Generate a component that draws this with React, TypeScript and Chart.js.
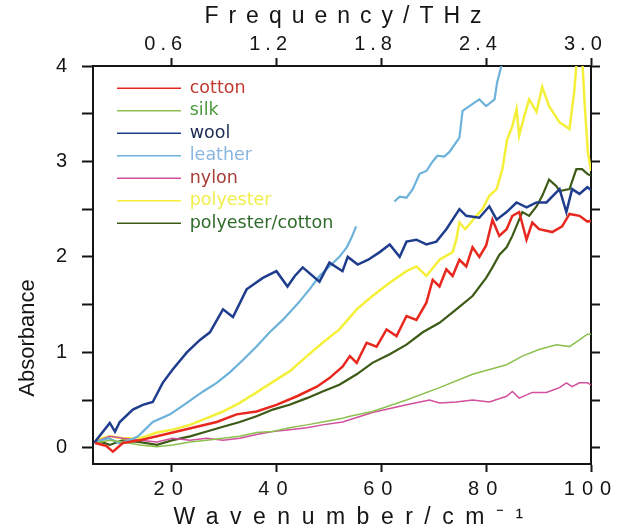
import React, { useEffect, useRef } from 'react';
import { Chart, registerables } from 'chart.js';

Chart.register(...registerables);

// ---- data (wavenumber in cm^-1, absorbance) ----
const cottonX = [5.4, 7.5, 8.8, 10.7, 14.0, 17.2, 21.0, 24.8, 28.6, 32.4, 36.2, 40.0, 43.9, 47.7, 50.1, 52.6, 54.0, 55.3, 57.2, 59.1, 61.0, 62.9, 64.8, 66.7, 68.6, 69.8, 71.1, 72.4, 73.6, 74.9, 76.2, 77.4, 78.7, 80.0, 81.2, 82.5, 83.9, 85.0, 86.3, 87.7, 88.8, 90.1, 92.6, 94.5, 95.9, 97.8, 99.3, 100];
const cottonY = [0.05, 0.02, -0.04, 0.05, 0.08, 0.12, 0.17, 0.22, 0.27, 0.35, 0.38, 0.45, 0.54, 0.64, 0.73, 0.85, 0.96, 0.89, 1.10, 1.06, 1.24, 1.17, 1.38, 1.34, 1.52, 1.76, 1.69, 1.87, 1.80, 1.97, 1.90, 2.10, 2.00, 2.12, 2.39, 2.22, 2.29, 2.43, 2.47, 2.18, 2.36, 2.29, 2.26, 2.32, 2.45, 2.43, 2.37, 2.38];

const silkX = [5.4, 8.2, 10.7, 14.0, 17.2, 20.2, 23.5, 26.7, 29.8, 33.0, 36.2, 39.3, 42.5, 45.8, 48.8, 52.6, 54.0, 58.3, 64.8, 71.1, 77.4, 83.9, 86.9, 90.1, 93.4, 95.9, 97.8, 99.3, 100];
const silkY = [0.05, 0.08, 0.06, 0.03, 0.01, 0.03, 0.06, 0.08, 0.10, 0.12, 0.16, 0.17, 0.21, 0.24, 0.27, 0.31, 0.33, 0.38, 0.50, 0.63, 0.77, 0.87, 0.96, 1.03, 1.08, 1.06, 1.13, 1.19, 1.19];

const woolX = [5.2, 8.2, 9.2, 10.1, 12.6, 14.5, 16.4, 18.3, 20.2, 22.9, 25.4, 27.3, 29.8, 31.7, 34.3, 37.4, 40.0, 42.1, 43.5, 45.0, 48.2, 50.1, 52.6, 53.6, 55.5, 57.5, 59.7, 61.6, 63.5, 64.8, 66.7, 68.6, 70.5, 72.4, 74.9, 76.2, 78.7, 80.6, 82.0, 83.9, 85.8, 87.7, 89.6, 91.5, 94.0, 95.3, 96.4, 97.8, 99.3, 100];
const woolY = [0.05, 0.26, 0.17, 0.27, 0.40, 0.45, 0.48, 0.68, 0.82, 1.00, 1.13, 1.21, 1.45, 1.37, 1.66, 1.78, 1.85, 1.69, 1.80, 1.89, 1.74, 1.94, 1.85, 2.00, 1.92, 1.97, 2.05, 2.13, 2.00, 2.16, 2.18, 2.13, 2.16, 2.29, 2.50, 2.43, 2.41, 2.53, 2.39, 2.47, 2.57, 2.52, 2.57, 2.57, 2.71, 2.47, 2.71, 2.66, 2.73, 2.70];

const leatherX = [5.4, 8.0, 10.0, 12.0, 13.6, 16.4, 19.7, 22.9, 26.0, 28.6, 31.1, 33.6, 36.2, 38.7, 41.2, 43.9, 46.3, 48.2, 50.1, 52.0, 53.4, 54.3, 55.2, 58.5, 62.5, 63.5, 64.8, 66.0, 67.3, 68.6, 69.8, 70.7, 72.0, 73.0, 74.9, 75.5, 76.8, 78.7, 80.0, 81.6, 82.1, 82.9, 83.5];
const leatherY = [0.06, 0.10, 0.05, 0.08, 0.12, 0.27, 0.35, 0.47, 0.59, 0.68, 0.79, 0.92, 1.06, 1.21, 1.34, 1.50, 1.66, 1.80, 1.90, 2.00, 2.10, 2.20, 2.32, null, 2.58, 2.63, 2.62, 2.71, 2.87, 2.90, 3.00, 3.06, 3.05, 3.10, 3.25, 3.53, 3.58, 3.65, 3.58, 3.65, 3.83, 4.00, 4.15];

const nylonX = [5.4, 8.2, 10.7, 14.0, 17.2, 20.2, 23.5, 26.7, 29.8, 33.0, 36.2, 39.3, 42.5, 45.8, 48.8, 52.6, 58.3, 64.8, 69.2, 71.1, 74.3, 77.4, 80.6, 83.9, 85.0, 86.3, 88.8, 91.5, 94.0, 95.3, 96.4, 97.8, 99.3, 100];
const nylonY = [0.06, 0.12, 0.10, 0.08, 0.06, 0.10, 0.08, 0.10, 0.08, 0.10, 0.14, 0.17, 0.19, 0.21, 0.24, 0.27, 0.37, 0.45, 0.50, 0.47, 0.48, 0.50, 0.48, 0.54, 0.59, 0.52, 0.58, 0.58, 0.63, 0.68, 0.64, 0.68, 0.68, 0.66];

const polyesterX = [5.4, 8.2, 10.7, 14.0, 17.2, 20.2, 23.5, 26.7, 29.8, 33.0, 36.2, 39.3, 42.5, 45.8, 48.8, 52.0, 55.3, 58.3, 61.6, 64.8, 66.7, 68.6, 71.1, 73.6, 74.3, 74.9, 76.0, 76.8, 78.1, 79.3, 80.6, 82.0, 83.1, 84.0, 85.0, 85.8, 86.3, 87.3, 88.2, 89.6, 90.7, 92.0, 94.0, 95.9, 96.8, 97.5, 98.2, 98.8, 99.4, 100];
const polyesterY = [0.08, 0.12, 0.10, 0.10, 0.16, 0.19, 0.24, 0.31, 0.38, 0.47, 0.58, 0.69, 0.80, 0.96, 1.10, 1.24, 1.45, 1.59, 1.73, 1.85, 1.90, 1.80, 1.97, 2.05, 2.18, 2.36, 2.29, 2.34, 2.43, 2.50, 2.64, 2.71, 2.92, 3.23, 3.37, 3.55, 3.27, 3.48, 3.65, 3.52, 3.78, 3.58, 3.41, 3.34, 3.73, 4.2, 4.2, 3.6, 3.1, 2.9];

const polyCottonX = [5.4, 8.2, 10.7, 14.0, 17.2, 20.2, 23.5, 26.7, 29.8, 33.0, 36.2, 39.3, 42.5, 45.8, 48.8, 52.0, 55.3, 58.3, 61.6, 64.8, 67.9, 71.1, 74.3, 77.4, 80.0, 81.2, 82.5, 83.9, 85.0, 86.9, 88.2, 89.6, 90.7, 92.0, 93.4, 94.0, 95.9, 97.2, 98.3, 99.3, 100];
const polyCottonY = [0.08, 0.03, 0.08, 0.06, 0.03, 0.08, 0.12, 0.17, 0.22, 0.27, 0.33, 0.40, 0.45, 0.52, 0.59, 0.66, 0.77, 0.89, 0.98, 1.08, 1.21, 1.31, 1.45, 1.59, 1.78, 1.89, 2.02, 2.10, 2.22, 2.47, 2.43, 2.53, 2.64, 2.81, 2.74, 2.69, 2.71, 2.92, 2.92, 2.87, 2.85];

const seriesNames = ['cotton', 'silk', 'wool', 'leather', 'nylon', 'polyester', 'polyester/cotton'];
const lineColors = ['#e8281e', '#8cc04e', '#1f3d8c', '#6cb2da', '#d24e9e', '#f4f03a', '#3d5a16'];
const legendTextColors = ['#c0392e', '#4d9a3c', '#1a2a52', '#8ab6e0', '#a83c36', '#f0ee4a', '#2f6a2a'];
const lineWidths = [2.5, 1.5, 2.5, 2.2, 1.5, 2.5, 2.2];

const xTicks = [20, 40, 60, 80, 100];
const thzTicks = [0.6, 1.2, 1.8, 2.4, 3.0];
const yTicks = [0, 0.5, 1, 1.5, 2, 2.5, 3, 3.5, 4];
const CM_PER_THZ = 33.356;
const X_MIN = 5;
const X_MAX = 100;
const Y_MIN = -0.17;
const Y_MAX = 4;

const pts = (xs: number[], ys: (number | null)[]) => xs.map((x, i) => ({ x, y: ys[i] }));
const seriesData = [
  pts(cottonX, cottonY),
  pts(silkX, silkY),
  pts(woolX, woolY),
  pts(leatherX, leatherY),
  pts(nylonX, nylonY),
  pts(polyesterX, polyesterY),
  pts(polyCottonX, polyCottonY),
];

const SANS = "'Liberation Sans', Arial, sans-serif";
const INK = '#151515';

const layoutPlugin = {
  id: 'layoutTweaks',
  afterLayout(chart: any) {
    const wrap = (scale: any, labelSp: string, labelDx: number, titleSp: string, titleDx: number, titleDy: number) => {
      if (!scale || scale.__wrapped) return;
      scale.__wrapped = true;
      const dl = scale.drawLabels.bind(scale);
      const dt = scale.drawTitle.bind(scale);
      scale.drawLabels = (area: any) => {
        const ctx = chart.ctx;
        ctx.save();
        ctx.letterSpacing = labelSp;
        ctx.translate(labelDx, 0);
        dl(area);
        ctx.restore();
      };
      scale.drawTitle = () => {
        const ctx = chart.ctx;
        ctx.save();
        ctx.letterSpacing = titleSp;
        ctx.translate(titleDx, titleDy);
        dt();
        ctx.restore();
      };
    };
    wrap(chart.scales.x, '7px', 0, '11.5px', 12, 0);
    wrap(chart.scales.xTop, '5px', -6, '10px', 6, 0);
    wrap(chart.scales.y, '0px', 0, '0px', 0, 73);
    if (chart.legend) {
      chart.legend.left = 112;
      chart.legend.top = 74.5;
    }
  },
};

export default function App() {
  const ref = useRef<HTMLCanvasElement | null>(null);

  useEffect(() => {
    if (!ref.current) return;
    const datasets = seriesNames.map((name, i) => ({
      label: name,
      data: seriesData[i],
      borderColor: lineColors[i],
      backgroundColor: lineColors[i],
      borderWidth: lineWidths[i],
      pointRadius: 0,
      tension: 0,
      spanGaps: false,
      fill: false,
    }));

    const chart = new Chart(ref.current, {
      type: 'line',
      data: { datasets },
      plugins: [layoutPlugin],
      options: {
        animation: false,
        responsive: false,
        devicePixelRatio: 1,
        layout: { padding: 0 },
        events: [],
        plugins: {
          tooltip: { enabled: false },
          legend: {
            position: 'chartArea',
            align: 'start',
            labels: {
              usePointStyle: true,
              pointStyle: 'line',
              pointStyleWidth: 64,
              padding: 5,
              font: { family: "'DejaVu Sans', Verdana, sans-serif", size: 17.5 },
              generateLabels: (c: any) => {
                const items = (Chart as any).defaults.plugins.legend.labels.generateLabels(c);
                items.forEach((it: any) => {
                  it.fontColor = legendTextColors[it.datasetIndex];
                  it.lineWidth = 1.5;
                });
                return items;
              },
            },
          },
        },
        scales: {
          x: {
            type: 'linear',
            position: 'bottom',
            min: X_MIN,
            max: X_MAX,
            afterBuildTicks: (s: any) => { s.ticks = xTicks.map((v) => ({ value: v })); },
            afterFit: (s: any) => { s.height = 68; },
            grid: { drawOnChartArea: false, drawTicks: true, tickLength: 8, tickWidth: 2, tickColor: INK },
            border: { display: true, color: INK, width: 2 },
            ticks: {
              autoSkip: false,
              maxRotation: 0,
              padding: 5,
              color: INK,
              font: { family: SANS, size: 20 },
              callback: (v: any) => String(v),
            },
            title: {
              display: true,
              text: 'Wavenumber/cm\u207B\u00B9',
              color: INK,
              font: { family: SANS, size: 23 },
              padding: { top: 0, bottom: 1 },
            },
          },
          xTop: {
            type: 'linear',
            position: 'top',
            min: X_MIN / CM_PER_THZ,
            max: X_MAX / CM_PER_THZ,
            afterBuildTicks: (s: any) => { s.ticks = thzTicks.map((v) => ({ value: v })); },
            afterFit: (s: any) => { s.height = 66; },
            grid: { drawOnChartArea: false, drawTicks: true, tickLength: 8, tickWidth: 2, tickColor: INK },
            border: { display: true, color: INK, width: 2 },
            ticks: {
              autoSkip: false,
              maxRotation: 0,
              padding: 2,
              color: INK,
              font: { family: SANS, size: 20 },
              callback: (v: any) => Number(v).toFixed(1),
            },
            title: {
              display: true,
              text: 'Frequency/THz',
              color: INK,
              font: { family: SANS, size: 23 },
              padding: { top: 3, bottom: 0 },
            },
          },
          y: {
            type: 'linear',
            position: 'left',
            min: Y_MIN,
            max: Y_MAX,
            afterBuildTicks: (s: any) => { s.ticks = yTicks.map((v) => ({ value: v })); },
            afterFit: (s: any) => { s.width = 93; },
            grid: { drawOnChartArea: false, drawTicks: true, tickLength: 11, tickWidth: 2, tickColor: INK },
            border: { display: true, color: INK, width: 2 },
            ticks: {
              padding: 15,
              color: INK,
              font: { family: SANS, size: 20 },
              callback: (v: any) => (Number.isInteger(v) ? String(v) : ''),
            },
            title: {
              display: true,
              text: 'Absorbance',
              color: INK,
              font: { family: SANS, size: 22 },
              padding: { top: 15, bottom: 0 },
            },
          },
          yRight: {
            type: 'linear',
            position: 'right',
            min: Y_MIN,
            max: Y_MAX,
            afterBuildTicks: (s: any) => { s.ticks = yTicks.map((v) => ({ value: v })); },
            afterFit: (s: any) => { s.width = 34; },
            grid: { drawOnChartArea: false, drawTicks: true, tickLength: 9, tickWidth: 2, tickColor: INK },
            border: { display: true, color: INK, width: 2 },
            ticks: { display: false },
          },
        },
      } as any,
    });
    return () => chart.destroy();
  }, []);

  return (
    <div style={{ position: 'absolute', left: 0, top: 0, width: 625, height: 532, background: '#fff' }}>
      <canvas ref={ref} width={625} height={532} style={{ width: 625, height: 532, display: 'block' }} />
    </div>
  );
}
